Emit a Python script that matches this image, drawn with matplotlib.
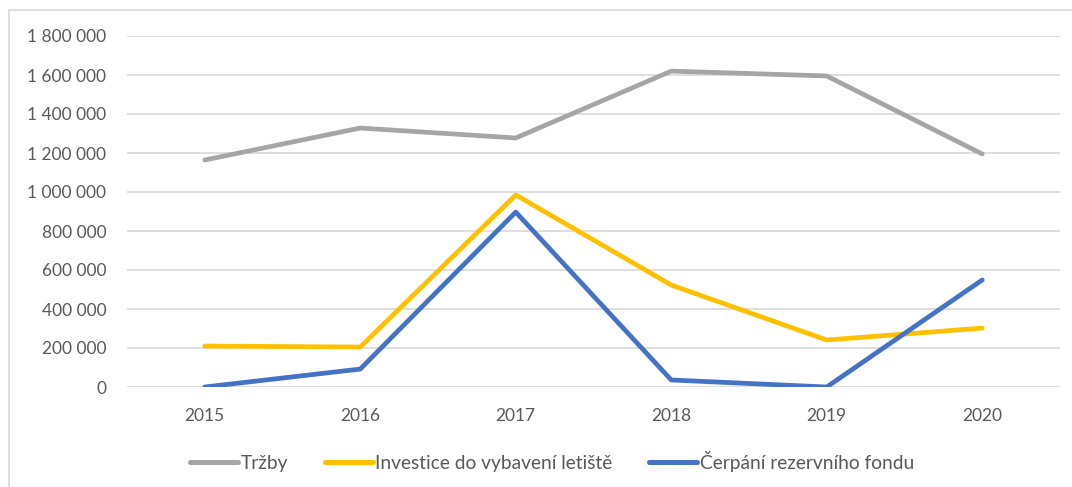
import matplotlib
matplotlib.use('Agg')
import matplotlib.pyplot as plt
from matplotlib.ticker import FuncFormatter, MultipleLocator
from matplotlib.patches import Rectangle

years = ['2015', '2016', '2017', '2018', '2019', '2020']
trzby = [1164000, 1328000, 1277000, 1620000, 1595000, 1195000]
investice = [210000, 205000, 985000, 523000, 241000, 302000]
cerpani = [0, 92000, 897000, 36000, 0, 549000]

series_names = ['Tržby', 'Investice do vybavení letiště', 'Čerpání rezervního fondu']
series_colors = ['#A5A5A5', '#FFC000', '#4472C4']

plt.rcParams['font.family'] = ['Lato', 'DejaVu Sans']
txt = '#595959'

fig = plt.figure(figsize=(10.72, 4.87), dpi=100)
# chart frame (clipped at the right and bottom like the reference)
fig.patches.append(Rectangle((9 / 1072, -0.05), 1.1, 1 - 10 / 487 + 0.05, transform=fig.transFigure,
                             fill=False, edgecolor='#D9D9D9', linewidth=1.2))

ax = fig.add_axes([127 / 1072, 1 - 387 / 487, (1060 - 127) / 1072, (387 - 36) / 487])
x = list(range(len(years)))
for vals, name, col in zip([trzby, investice, cerpani], series_names, series_colors):
    ax.plot(x, vals, color=col, linewidth=3.4, solid_capstyle='round', label=name, zorder=3)

ax.set_xlim(-0.5, len(years) - 0.5)
ax.set_ylim(0, 1800000)
ax.yaxis.set_major_locator(MultipleLocator(200000))
ax.yaxis.set_major_formatter(FuncFormatter(lambda v, p: f'{int(v):,}'.replace(',', ' ')))
ax.set_xticks(x)
ax.set_xticklabels(years)
ax.grid(axis='y', color='#D9D9D9', linewidth=1.2, zorder=0)
for s in ax.spines.values():
    s.set_visible(False)
ax.tick_params(axis='both', length=0, labelsize=12.5, labelcolor=txt)
ax.tick_params(axis='y', pad=15)
ax.tick_params(axis='x', pad=15)

leg = fig.legend(loc='center', bbox_to_anchor=(552 / 1072, 1 - 461 / 487), ncol=3, frameon=False,
                 fontsize=13.8, handlelength=2.5, handletextpad=0.15, columnspacing=1.9)
for t in leg.get_texts():
    t.set_color(txt)
for h in leg.get_lines():
    h.set_linewidth(3.6)

fig.savefig('out.png', dpi=100)
